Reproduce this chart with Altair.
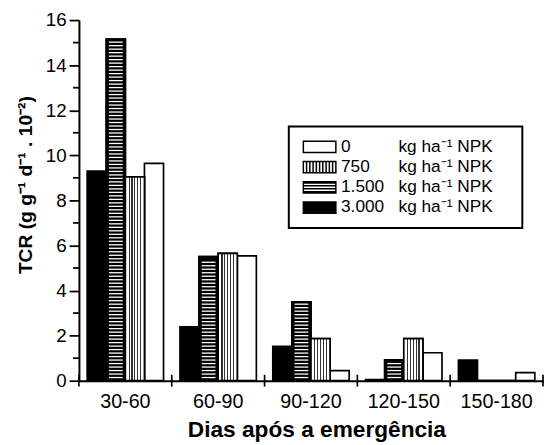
import altair as alt
import pandas as pd

# ---- data ----
cats = ["30-60", "60-90", "90-120", "120-150", "150-180"]
trats = ["0", "750", "1.500", "3.000"]          # legend order
bar_order = ["3.000", "1.500", "750", "0"]      # order of bars inside a group
v0 = [9.64, 5.54, 0.45, 1.24, 0.36]
v750 = [9.04, 5.65, 1.87, 1.87, 0.0]
v1500 = [15.16, 5.51, 3.50, 0.93, 0.0]
v3000 = [9.30, 2.39, 1.53, 0.05, 0.92]
major_ticks = list(range(0, 17, 2))
minor_ticks = list(range(1, 17, 2))

rows = []
for t, vals in zip(trats, [v0, v750, v1500, v3000]):
    for c, v in zip(cats, vals):
        rows.append({"cat": c, "trat": t, "v": v})
df = pd.DataFrame(rows)

# horizontal hatch lines for the 1.500 bars (derived from the values)
step = 0.155
stripes = []
for c, v in zip(cats, v1500):
    yy = 0.14
    while yy < v - 0.1:
        stripes.append({"cat": c, "trat": "1.500", "v": yy})
        yy += step
st = pd.DataFrame(stripes)

W, H = 471, 366
FONT = "Liberation Sans"
nb = "\u00a0"
unit = "kg ha\u207b\u00b9 NPK" + nb + "\u2800"
labels = {"0": "0" + nb * 10 + unit, "750": "750" + nb * 6 + unit,
          "1.500": "1.500" + nb * 3 + unit, "3.000": "3.000" + nb * 3 + unit}
label_expr = ("datum.label == '0' ? '%s' : datum.label == '750' ? '%s' : "
              "datum.label == '1.500' ? '%s' : '%s'") % (
    labels["0"], labels["750"], labels["1.500"], labels["3.000"])

x_axis = alt.Axis(ticks=False, labelFontSize=20, labelFont=FONT, labelColor="black",
                  labelPadding=11, labelAngle=0, domainColor="black", domainWidth=2,
                  titleFontSize=23, titleFont=FONT, titleFontWeight="bold",
                  titleColor="black", titlePadding=8, titleX=241, zindex=1, grid=False)


def make_x(bp=None):
    kw = {}
    if bp is not None:
        kw["bandPosition"] = bp
    return alt.X("cat:N", sort=cats,
                 scale=alt.Scale(domain=cats, paddingInner=0, paddingOuter=0),
                 axis=x_axis, title="Dias após a emergência", **kw)


xo = alt.XOffset("trat:N", scale=alt.Scale(domain=bar_order, paddingOuter=0.43, paddingInner=0))
y_axis = alt.Axis(values=major_ticks, grid=False, tickSize=10,
                  tickWidth=1.8, tickColor="black", domainColor="black", domainWidth=2,
                  labelFontSize=19, labelFont=FONT, labelColor="black", labelPadding=3,
                  titleFontSize=19.5, titleFont=FONT, titleFontWeight="bold",
                  titleColor="black", titleX=-44, titleY=167, zindex=1)


def make_y(field="v"):
    return alt.Y(field + ":Q", scale=alt.Scale(domain=[0, 16], nice=False, zero=True),
                 title="TCR  (g  g\u207b\u00b9  d\u207b\u00b9 . 10\u207b\u00b2)", axis=y_axis)


y = make_y()

fill_scale = alt.Scale(domain=trats, range=["white", "white", "white", "black"])
stroke_scale = alt.Scale(domain=trats, range=["black", "black", "black", "black"])
paths = [
    "M-1,-0.95H4.5V0.95H-1Z",
    "M-1,-0.95H4.5V0.95H-1Z M-0.45,-0.95V0.95 M0.1,-0.95V0.95 M0.65,-0.95V0.95 "
    "M1.2,-0.95V0.95 M1.75,-0.95V0.95 M2.3,-0.95V0.95 M2.85,-0.95V0.95 M3.4,-0.95V0.95 M3.95,-0.95V0.95",
    "M-1,-0.95H4.5V0.95H-1Z M-1,-0.75H4.5 M-1,-0.25H4.5 M-1,0.25H4.5 M-1,0.75H4.5",
    "M-1,-0.95H4.5V0.95H-1Z",
]
shape_scale = alt.Scale(domain=trats, range=paths)
legend = alt.Legend(title=None, orient="none", legendX=213, legendY=108,
                    strokeColor="black", padding=12, labelFont=FONT, labelFontSize=17.5,
                    labelColor="black", symbolSize=144, symbolStrokeColor="black",
                    symbolStrokeWidth=1.5, symbolOpacity=1, labelOffset=23.5,
                    rowPadding=1.5, labelExpr=label_expr, labelLimit=400)

base = alt.Chart(df)

bars = base.mark_bar(stroke="black", strokeWidth=1.7).encode(
    x=make_x(), xOffset=xo, y=y,
    fill=alt.Fill("trat:N", scale=fill_scale, legend=legend))

black1500 = base.transform_filter(alt.datum.trat == "1.500").mark_bar(
    fill="black", stroke="black", strokeWidth=1.7).encode(x=make_x(), xOffset=xo, y=y)

hatch = alt.Chart(st).mark_tick(color="white", thickness=1.3, size=14, opacity=1).encode(
    x=make_x(), xOffset=xo, y=y)

line_fracs = [0.2, 0.35, 0.5, 0.65, 0.8]
hw = 0.03
stops = [alt.GradientStop(offset=0, color="white")]
for f in line_fracs:
    stops += [alt.GradientStop(offset=f - hw, color="white"),
              alt.GradientStop(offset=f - hw, color="#333333"),
              alt.GradientStop(offset=f + hw, color="#333333"),
              alt.GradientStop(offset=f + hw, color="white")]
stops.append(alt.GradientStop(offset=1, color="white"))
grad = alt.Gradient(gradient="linear", stops=stops, x1=0, x2=1, y1=0, y2=0)

vert750 = base.transform_filter(alt.datum.trat == "750").mark_bar(
    fill=grad, stroke="black", strokeWidth=1.7).encode(x=make_x(), xOffset=xo, y=y)

ticks_df = pd.DataFrame({"cat": cats})
xt0 = alt.Chart(ticks_df).mark_rule(color="black", strokeWidth=1.7).encode(
    x=make_x(0), y=alt.value(H - 6), y2=alt.value(H + 6))
xt1 = alt.Chart(pd.DataFrame({"cat": [cats[-1]]})).mark_rule(color="black", strokeWidth=1.7).encode(
    x=make_x(1), y=alt.value(H - 6), y2=alt.value(H + 6))

minor = alt.Chart(pd.DataFrame({"m": minor_ticks})).mark_rule(color="black", strokeWidth=1.8).encode(
    y=make_y("m"), x=alt.value(-6), x2=alt.value(0))

leg = base.mark_point(filled=True, opacity=0).encode(
    x=make_x(), xOffset=xo, y=y,
    fill=alt.Fill("trat:N", scale=fill_scale, legend=legend),
    stroke=alt.Stroke("trat:N", scale=stroke_scale, legend=legend),
    shape=alt.Shape("trat:N", scale=shape_scale, legend=legend))

chart = alt.layer(bars, black1500, hatch, vert750, xt0, xt1, minor, leg).properties(
    width=W, height=H,
    padding={"left": 72, "top": 9, "right": 1, "bottom": 62},
    autosize=alt.AutoSizeParams(type="none"),
    background="white",
).configure_view(stroke=None).configure_legend(strokeWidth=2)

chart.save("out.html", embed_options={"renderer": "svg", "actions": False})
